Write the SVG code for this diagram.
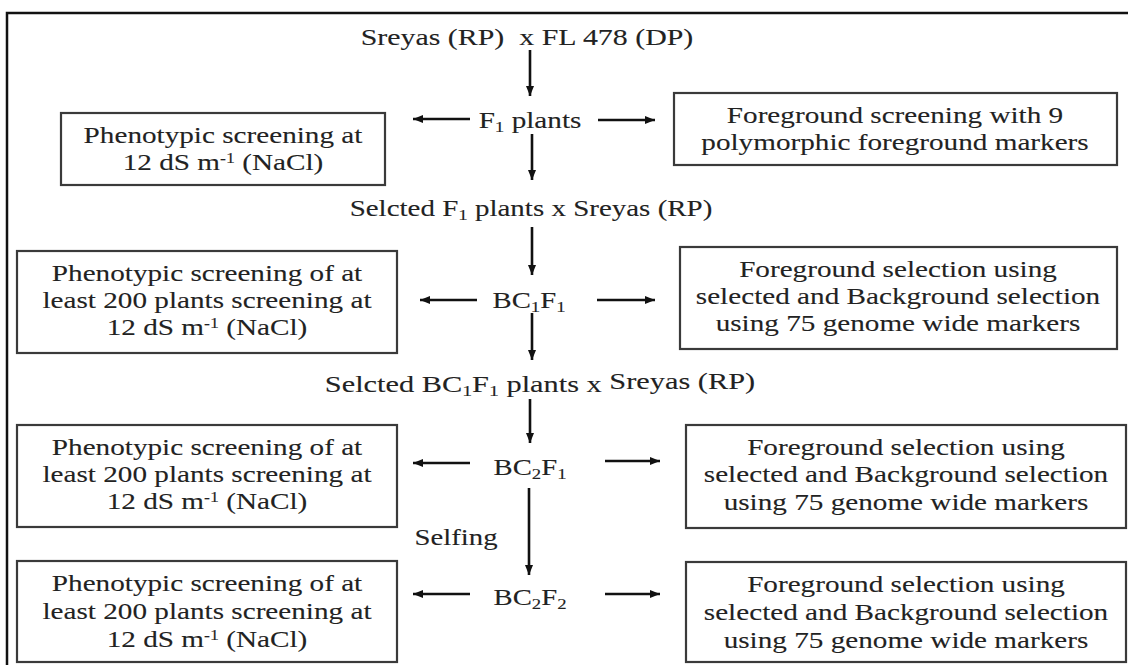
<svg xmlns="http://www.w3.org/2000/svg" width="1128" height="665" viewBox="0 0 1128 665">
<defs>
<marker id="ah" viewBox="0 0 10 8" refX="10" refY="4" markerWidth="10" markerHeight="8" markerUnits="userSpaceOnUse" orient="auto">
<path d="M0,0 L10,4 L0,8 z" fill="#111"/>
</marker>
<style>
text{font-family:"Liberation Serif","Times New Roman",serif;font-size:23px;fill:#222;stroke:#222;stroke-width:0.1;text-anchor:middle;white-space:pre}
.box{fill:#fff;stroke:#3a3a3a;stroke-width:2.2}
.arr{stroke:#111;stroke-width:2.6;fill:none;marker-end:url(#ah)}
.sub{font-size:15px}
.sup{font-size:14px}
</style>
</defs>
<rect width="1128" height="665" fill="#fff"/>
<path d="M7,665 V13 H1128" fill="none" stroke="#111" stroke-width="2.5"/>

<g id="title"><text transform="translate(527,45) scale(1.3,1)" xml:space="preserve">Sreyas (RP)  x FL 478 (DP)</text></g>
<g id="f1"><text transform="translate(530,128) scale(1.27,1)">F<tspan class="sub" dy="4">1</tspan><tspan dy="-4"> plants</tspan></text></g>
<g id="cross1"><text transform="translate(531,216) scale(1.26,1)">Selcted F<tspan class="sub" dy="4">1</tspan><tspan dy="-4"> plants x Sreyas (RP)</tspan></text></g>
<g id="bc1f1"><text transform="translate(529,308) scale(1.25,1)">BC<tspan class="sub" dy="4">1</tspan><tspan dy="-4">F</tspan><tspan class="sub" dy="4">1</tspan></text></g>
<g id="cross2"><text transform="translate(540,392) scale(1.32,1)">Selcted BC<tspan class="sub" dy="4">1</tspan><tspan dy="-4">F</tspan><tspan class="sub" dy="4">1</tspan><tspan dy="-4"> plants x </tspan><tspan dy="-3">Sreyas (RP)</tspan></text></g>
<g id="bc2f1"><text transform="translate(530,475) scale(1.25,1)">BC<tspan class="sub" dy="4">2</tspan><tspan dy="-4">F</tspan><tspan class="sub" dy="4">1</tspan></text></g>
<g id="selfing"><text transform="translate(456,545) scale(1.25,1)">Selfing</text></g>
<g id="bc2f2"><text transform="translate(530,605) scale(1.25,1)">BC<tspan class="sub" dy="4">2</tspan><tspan dy="-4">F</tspan><tspan class="sub" dy="4">2</tspan></text></g>

<g id="pheno1">
<rect class="box" x="61" y="113" width="324" height="72"/>
<text transform="translate(223,143) scale(1.27,1)">Phenotypic screening at</text>
<text transform="translate(223,170) scale(1.27,1)">12 dS m<tspan class="sup" dy="-7">-1</tspan><tspan dy="7"> (NaCl)</tspan></text>
</g>
<g id="fore1">
<rect class="box" x="674" y="93" width="443" height="72"/>
<text transform="translate(895,123) scale(1.27,1)">Foreground screening with 9</text>
<text transform="translate(895,150) scale(1.27,1)">polymorphic foreground markers</text>
</g>
<g id="pheno2">
<rect class="box" x="17" y="251" width="380" height="102"/>
<text transform="translate(207,281) scale(1.27,1)">Phenotypic screening of at</text>
<text transform="translate(207,308) scale(1.27,1)">least 200 plants screening at</text>
<text transform="translate(207,335) scale(1.27,1)">12 dS m<tspan class="sup" dy="-7">-1</tspan><tspan dy="7"> (NaCl)</tspan></text>
</g>
<g id="fore2">
<rect class="box" x="680" y="247" width="437" height="102"/>
<text transform="translate(898,277) scale(1.27,1)">Foreground selection using</text>
<text transform="translate(898,304) scale(1.27,1)">selected and Background selection</text>
<text transform="translate(898,331) scale(1.27,1)">using 75 genome wide markers</text>
</g>
<g id="pheno3">
<rect class="box" x="17" y="425" width="380" height="102"/>
<text transform="translate(207,455) scale(1.27,1)">Phenotypic screening of at</text>
<text transform="translate(207,482) scale(1.27,1)">least 200 plants screening at</text>
<text transform="translate(207,509) scale(1.27,1)">12 dS m<tspan class="sup" dy="-7">-1</tspan><tspan dy="7"> (NaCl)</tspan></text>
</g>
<g id="fore3">
<rect class="box" x="686" y="425" width="440" height="103"/>
<text transform="translate(906,455) scale(1.27,1)">Foreground selection using</text>
<text transform="translate(906,482) scale(1.27,1)">selected and Background selection</text>
<text transform="translate(906,510) scale(1.27,1)">using 75 genome wide markers</text>
</g>
<g id="pheno4">
<rect class="box" x="17" y="561" width="380" height="101"/>
<text transform="translate(207,591) scale(1.27,1)">Phenotypic screening of at</text>
<text transform="translate(207,619) scale(1.27,1)">least 200 plants screening at</text>
<text transform="translate(207,647) scale(1.27,1)">12 dS m<tspan class="sup" dy="-7">-1</tspan><tspan dy="7"> (NaCl)</tspan></text>
</g>
<g id="fore4">
<rect class="box" x="686" y="562" width="440" height="100"/>
<text transform="translate(906,592) scale(1.27,1)">Foreground selection using</text>
<text transform="translate(906,620) scale(1.27,1)">selected and Background selection</text>
<text transform="translate(906,648) scale(1.27,1)">using 75 genome wide markers</text>
</g>

<g id="connectors">
<line class="arr" x1="530" y1="50" x2="530" y2="96"/>
<line class="arr" x1="470" y1="119" x2="413" y2="119"/>
<line class="arr" x1="598" y1="120" x2="655" y2="120"/>
<line class="arr" x1="532" y1="134" x2="532" y2="180"/>
<line class="arr" x1="532" y1="227" x2="532" y2="275"/>
<line class="arr" x1="477" y1="300" x2="420" y2="300"/>
<line class="arr" x1="597" y1="300" x2="655" y2="300"/>
<line class="arr" x1="532" y1="313" x2="532" y2="360"/>
<line class="arr" x1="530" y1="399" x2="530" y2="443"/>
<line class="arr" x1="470" y1="463" x2="413" y2="463"/>
<line class="arr" x1="605" y1="461" x2="660" y2="461"/>
<line class="arr" x1="529" y1="488" x2="529" y2="575"/>
<line class="arr" x1="470" y1="594" x2="413" y2="594"/>
<line class="arr" x1="605" y1="594" x2="660" y2="594"/>
</g>
</svg>
